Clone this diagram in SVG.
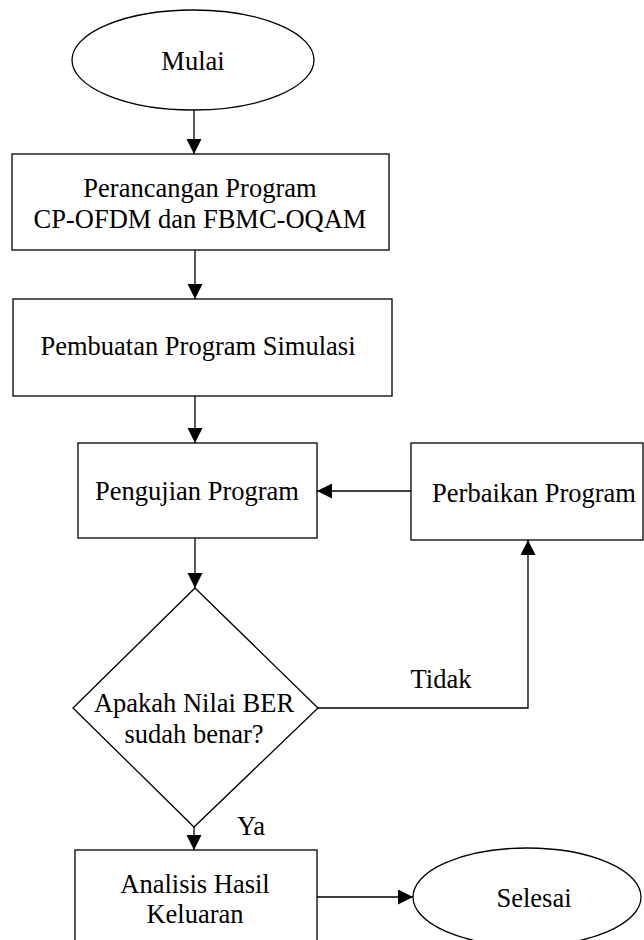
<svg xmlns="http://www.w3.org/2000/svg" width="644" height="940" viewBox="0 0 644 940">
  <style>
    .shape { fill: #ffffff; stroke: #000000; stroke-width: 1.3; }
    .edge { fill: none; stroke: #000000; stroke-width: 1.3; marker-end: url(#arrow); }
    .label { font-family: "Liberation Serif", "Times New Roman", serif; font-size: 26.5px; fill: #000000; text-anchor: middle; }
  </style>
  <defs>
    <marker id="arrow" markerUnits="userSpaceOnUse" markerWidth="16" markerHeight="16" refX="15" refY="7.5" orient="auto">
      <path d="M0,0 L15,7.5 L0,15 Z" fill="#000000"/>
    </marker>
  </defs>
  <rect width="644" height="940" fill="#ffffff"/>

  <!-- connectors -->
  <g id="connectors">
    <line class="edge" x1="194" y1="110" x2="194" y2="154"/>
    <line class="edge" x1="195" y1="250" x2="195" y2="299"/>
    <line class="edge" x1="195" y1="396" x2="195" y2="443"/>
    <line class="edge" x1="195" y1="538" x2="195" y2="588"/>
    <line class="edge" x1="411" y1="491" x2="317" y2="491"/>
    <polyline class="edge" points="318,708 528,708 528,540"/>
    <line class="edge" x1="194" y1="827" x2="194" y2="850"/>
    <line class="edge" x1="317" y1="897" x2="413" y2="897"/>
    <text class="label" x="441" y="688">Tidak</text>
    <text class="label" x="251" y="835">Ya</text>
  </g>

  <!-- nodes -->
  <g id="mulai">
    <ellipse class="shape" cx="193" cy="60" rx="121" ry="50"/>
    <text class="label" x="193" y="70">Mulai</text>
  </g>

  <g id="perancangan">
    <rect class="shape" x="12" y="154" width="377" height="96"/>
    <text class="label" x="200" y="197">Perancangan Program</text>
    <text class="label" x="200" y="228">CP-OFDM dan FBMC-OQAM</text>
  </g>

  <g id="pembuatan">
    <rect class="shape" x="13" y="299" width="379" height="97"/>
    <text class="label" x="198" y="355">Pembuatan Program Simulasi</text>
  </g>

  <g id="pengujian">
    <rect class="shape" x="78" y="443" width="239" height="95"/>
    <text class="label" x="197" y="500">Pengujian Program</text>
  </g>

  <g id="perbaikan">
    <rect class="shape" x="411" y="443" width="232" height="97"/>
    <text class="label" x="534" y="502">Perbaikan Program</text>
  </g>

  <g id="keputusan">
    <polygon class="shape" points="195,588 318,708 194,827 73,708"/>
    <text class="label" x="194" y="712">Apakah Nilai BER</text>
    <text class="label" x="194" y="743">sudah benar?</text>
  </g>

  <g id="analisis">
    <rect class="shape" x="75" y="850" width="242" height="110"/>
    <text class="label" x="195" y="893">Analisis Hasil</text>
    <text class="label" x="195" y="923">Keluaran</text>
  </g>

  <g id="selesai">
    <ellipse class="shape" cx="527" cy="897" rx="114" ry="49"/>
    <text class="label" x="534" y="907">Selesai</text>
  </g>
</svg>
